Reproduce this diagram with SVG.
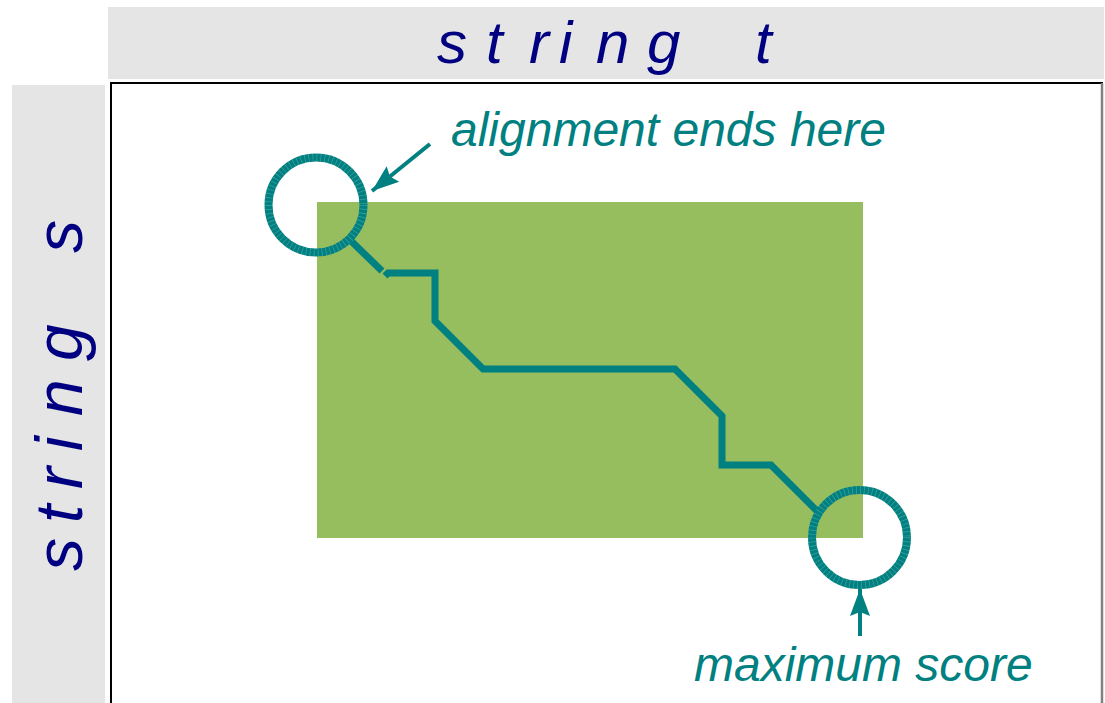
<svg xmlns="http://www.w3.org/2000/svg" width="1105" height="703" viewBox="0 0 1105 703">
  <style>
    .band { fill: #e5e5e5; }
    .axis { font-family: "Liberation Sans", Arial, sans-serif; font-style: italic; fill: #000080; white-space: pre; }
    .note { font-family: "Liberation Sans", Arial, sans-serif; font-style: italic; font-size: 48px; fill: #008080; }
    .trace { fill: none; stroke: #008080; stroke-width: 7; stroke-linejoin: miter; stroke-linecap: butt; }
    .ring { fill: none; stroke: #008080; stroke-width: 8; }
    .ring-ticks { fill: none; stroke: #ffffff; stroke-opacity: 0.25; stroke-width: 8; stroke-dasharray: 0.7 3.3; }
    .pointer { fill: none; stroke: #008080; stroke-width: 4; }
  </style>
  <defs>
    <marker id="head" viewBox="-28 -11 30 22" refX="0" refY="0" markerWidth="30" markerHeight="22" markerUnits="userSpaceOnUse" orient="auto">
      <path d="M0,0 L-27,-10 L-23,0 L-27,10 Z" fill="#008080"/>
    </marker>
  </defs>

  <rect width="1105" height="703" fill="#ffffff"/>

  <!-- header bands -->
  <g id="header-t">
    <rect class="band" x="108" y="7" width="996" height="72"/>
    <text class="axis" font-size="60" y="63" x="437 470 486 514 529 547 559 578 596 628 647 682 702 722 755">s t r i n g   t</text>
  </g>
  <g id="header-s">
    <rect class="band" x="12" y="85" width="93" height="618"/>
    <text class="axis" font-size="66" transform="translate(82,0) rotate(-90)" y="0" x="-571 -540 -523 -505 -489 -467 -451 -432 -416 -390 -361 -330 -310 -290 -253">s t r i n g   s</text>
  </g>

  <!-- matrix frame -->
  <g id="matrix">
    <rect x="111" y="83" width="991" height="640" fill="#ffffff" stroke="#000000" stroke-width="2"/>
    <line x1="1102" y1="83" x2="1102" y2="703" stroke="#808080" stroke-width="2.5"/>
  </g>

  <!-- local alignment region -->
  <g id="region">
    <rect x="317" y="202" width="546" height="336" fill="#96be5f"/>
  </g>

  <!-- alignment path and end markers -->
  <g id="connectors">
    <line class="trace" x1="349" y1="239" x2="382" y2="271"/>
    <polyline class="trace" points="385,276 388,273 435,273 435,321 483,369 675,369 722,416 722,465 771,465 818,512"/>
    <line class="pointer" x1="430" y1="144" x2="372" y2="191" marker-end="url(#head)"/>
    <line class="pointer" x1="860" y1="636" x2="860" y2="589" marker-end="url(#head)"/>
  </g>

  <g id="start-ring">
    <circle class="ring" cx="316" cy="205" r="47.5"/>
    <circle class="ring-ticks" cx="316" cy="205" r="47.5"/>
  </g>
  <g id="end-ring">
    <circle class="ring" cx="859.5" cy="537.5" r="47.5"/>
    <circle class="ring-ticks" cx="859.5" cy="537.5" r="47.5"/>
  </g>

  <!-- labels -->
  <g id="label-end">
    <text class="note" x="451" y="146">alignment ends here</text>
  </g>
  <g id="label-max">
    <text class="note" x="694" y="681">maximum score</text>
  </g>
</svg>
